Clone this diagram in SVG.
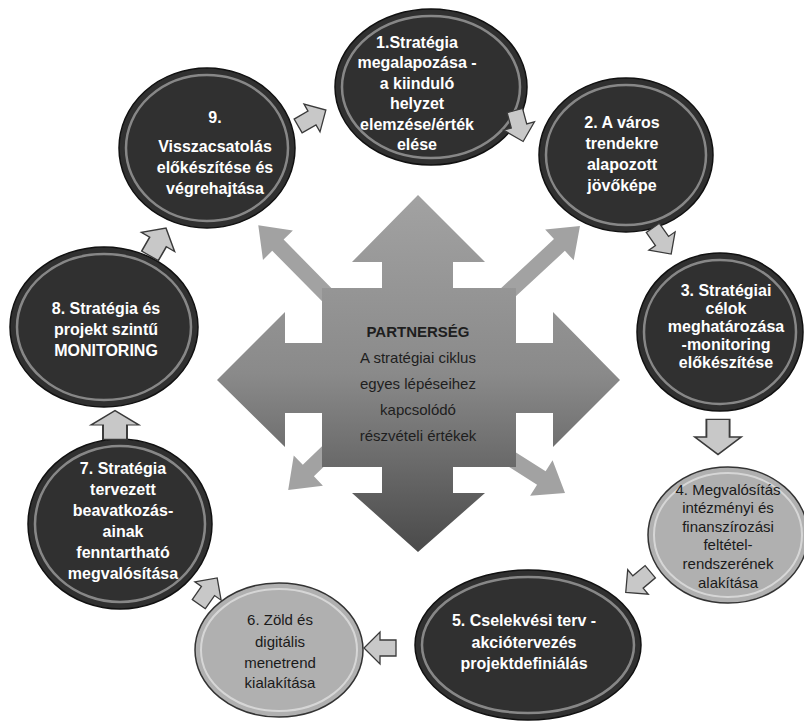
<svg xmlns="http://www.w3.org/2000/svg" width="804" height="725" viewBox="0 0 804 725">
<style>
.dk{fill:#303030;stroke:#111;stroke-width:1.5}
.lt{fill:#b0b0b0;stroke:#333;stroke-width:1.5}
.rim{fill:none;stroke:#d0d0d0;stroke-width:2.5;opacity:0.55}
.rim2{fill:none;stroke:#f0f0f0;stroke-width:2;opacity:0.6}
.wt{font-family:"Liberation Sans",Arial,sans-serif;font-size:16px;font-weight:bold;fill:#ffffff;text-anchor:middle}
.dt{font-family:"Liberation Sans",Arial,sans-serif;font-size:15px;fill:#1a1a1a;text-anchor:middle}
.ct{font-family:"Liberation Sans",Arial,sans-serif;font-size:15px;fill:#1e1e1e;text-anchor:middle}
.sa{fill:#c8c8c8;stroke:#3a3a3a;stroke-width:1.3}
.da{fill:url(#cg)}
</style>
<defs>
<linearGradient id="cg" gradientUnits="userSpaceOnUse" x1="0" y1="195" x2="0" y2="552">
<stop offset="0" stop-color="#a2a2a2"/>
<stop offset="0.5" stop-color="#8a8a8a"/>
<stop offset="1" stop-color="#4a4a4a"/>
</linearGradient>
<path id="small" d="M-8,-16 L8,-16 L8,0 L16,0 L0,16 L-16,0 L-8,0 Z"/>
</defs>
<rect width="804" height="725" fill="#ffffff"/>

<g id="center">
<path class="da" transform="translate(332,300) rotate(-134.6)" d="M0,-8 L77,-8 L77,-21 L105,0 L77,21 L77,8 L0,8 Z"/>
<path class="da" transform="translate(500,300) rotate(-42.8)" d="M0,-8 L81,-8 L81,-21 L109,0 L81,21 L81,8 L0,8 Z"/>
<path class="da" transform="translate(340,440) rotate(136)" d="M0,-8 L44,-8 L44,-21 L72,0 L44,21 L44,8 L0,8 Z"/>
<path class="da" transform="translate(505,455) rotate(32.3)" d="M0,-8 L43,-8 L43,-21 L71,0 L43,21 L43,8 L0,8 Z"/>
<path class="da" d="M418,195 L485,262 L453,262 L453,288 L516,288 L516,343 L553,343 L553,312 L620,380 L553,447 L553,413 L516,413 L516,467 L453,467 L453,493 L485,493 L418,552 L352,493 L382,493 L382,467 L322,467 L322,413 L285,413 L285,447 L217,380 L285,312 L285,343 L322,343 L322,288 L382,288 L382,262 L352,262 Z"/>
<text class="ct" x="418" y="337" font-weight="bold">PARTNERSÉG</text>
<text class="ct" x="418" y="363">A stratégiai ciklus</text>
<text class="ct" x="418" y="389">egyes lépéseihez</text>
<text class="ct" x="418" y="415">kapcsolódó</text>
<text class="ct" x="418" y="441">részvételi értékek</text>
</g>

<g id="node1">
<ellipse class="dk" cx="431" cy="87" rx="96" ry="78"/>
<ellipse class="rim" cx="431" cy="87" rx="89" ry="71"/>
<text class="wt" x="417" y="48">1.Stratégia</text>
<text class="wt" x="417" y="68">megalapozása -</text>
<text class="wt" x="417" y="89">a kiinduló</text>
<text class="wt" x="417" y="109">helyzet</text>
<text class="wt" x="417" y="130">elemzése/érték</text>
<text class="wt" x="417" y="150">elése</text>
</g>

<g id="node2">
<ellipse class="dk" cx="626" cy="155" rx="87" ry="77"/>
<ellipse class="rim" cx="626" cy="155" rx="80" ry="70"/>
<text class="wt" x="622" y="128">2. A város</text>
<text class="wt" x="622" y="149">trendekre</text>
<text class="wt" x="622" y="170">alapozott</text>
<text class="wt" x="622" y="191">jövőképe</text>
</g>

<g id="node3">
<ellipse class="dk" cx="720" cy="332" rx="83" ry="79"/>
<ellipse class="rim" cx="720" cy="332" rx="76" ry="72"/>
<text class="wt" x="726" y="296">3. Stratégiai</text>
<text class="wt" x="726" y="314">célok</text>
<text class="wt" x="726" y="332">meghatározása</text>
<text class="wt" x="726" y="350">-monitoring</text>
<text class="wt" x="726" y="368">előkészítése</text>
</g>

<g id="node4">
<ellipse class="lt" cx="728" cy="535" rx="80" ry="68"/>
<ellipse class="rim2" cx="728" cy="535" rx="74" ry="62"/>
<text class="dt" x="728" y="495">4. Megvalósítás</text>
<text class="dt" x="728" y="513">intézményi és</text>
<text class="dt" x="728" y="532">finanszírozási</text>
<text class="dt" x="728" y="550">feltétel-</text>
<text class="dt" x="728" y="569">rendszerének</text>
<text class="dt" x="728" y="588">alakítása</text>
</g>

<g id="node5">
<ellipse class="dk" cx="528" cy="645" rx="113" ry="75"/>
<ellipse class="rim" cx="528" cy="645" rx="106" ry="68"/>
<text class="wt" x="524" y="626">5. Cselekvési terv -</text>
<text class="wt" x="524" y="648">akciótervezés</text>
<text class="wt" x="524" y="669">projektdefiniálás</text>
</g>

<g id="node6">
<ellipse class="lt" cx="279" cy="650" rx="84" ry="67"/>
<ellipse class="rim2" cx="279" cy="650" rx="78" ry="61"/>
<text class="dt" x="280" y="625">6. Zöld és</text>
<text class="dt" x="280" y="647">digitális</text>
<text class="dt" x="280" y="668">menetrend</text>
<text class="dt" x="280" y="688">kialakítása</text>
</g>

<g id="node7">
<ellipse class="dk" cx="120" cy="524" rx="92" ry="85"/>
<ellipse class="rim" cx="120" cy="524" rx="85" ry="78"/>
<text class="wt" x="123" y="474">7. Stratégia</text>
<text class="wt" x="123" y="495">tervezett</text>
<text class="wt" x="123" y="516">beavatkozás-</text>
<text class="wt" x="123" y="537">ainak</text>
<text class="wt" x="123" y="558">fenntartható</text>
<text class="wt" x="123" y="579">megvalósítása</text>
</g>

<g id="node8">
<ellipse class="dk" cx="104" cy="327" rx="94" ry="80"/>
<ellipse class="rim" cx="104" cy="327" rx="87" ry="73"/>
<text class="wt" x="106" y="314">8. Stratégia és</text>
<text class="wt" x="106" y="335">projekt szintű</text>
<text class="wt" x="106" y="356">MONITORING</text>
</g>

<g id="node9">
<ellipse class="dk" cx="207" cy="148" rx="88" ry="80"/>
<ellipse class="rim" cx="207" cy="148" rx="81" ry="73"/>
<text class="wt" x="215" y="123">9.</text>
<text class="wt" x="215" y="152">Visszacsatolás</text>
<text class="wt" x="215" y="173">előkészítése és</text>
<text class="wt" x="215" y="194">végrehajtása</text>
</g>

<g id="connectors">
<use href="#small" class="sa" transform="translate(519,126) rotate(-15)"/>
<use href="#small" class="sa" transform="translate(662,241) rotate(-35)"/>
<use href="#small" class="sa" transform="translate(718,437) scale(1.45,1.1)"/>
<use href="#small" class="sa" transform="translate(638,582) rotate(50)"/>
<use href="#small" class="sa" transform="translate(380,648) rotate(90)"/>
<use href="#small" class="sa" transform="translate(208,591) rotate(215)"/>
<use href="#small" class="sa" transform="translate(115,425) rotate(180) scale(1.5,0.9)"/>
<use href="#small" class="sa" transform="translate(158,242) rotate(210) scale(1.2,1)"/>
<use href="#small" class="sa" transform="translate(312,118) rotate(240)"/>
</g>
</svg>
